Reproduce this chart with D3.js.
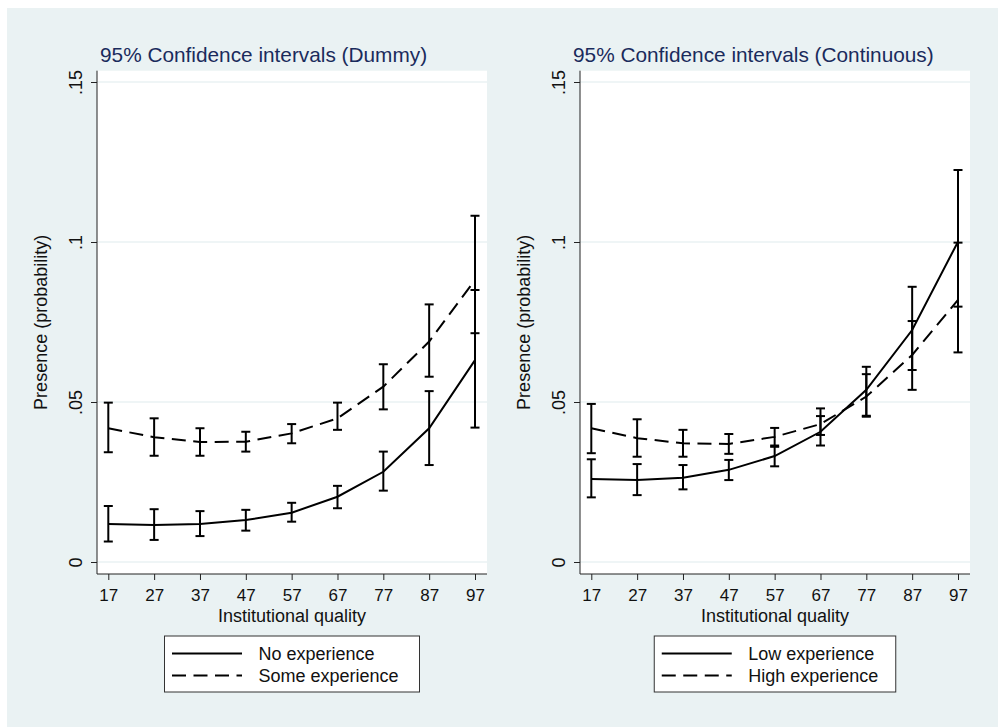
<!DOCTYPE html>
<html>
<head>
<meta charset="utf-8">
<script src="https://cdn.jsdelivr.net/npm/d3@7"></script>
<style>
  body { margin: 0; background: #fff; }
  svg { display: block; font-family: "Liberation Sans", Arial, sans-serif; }
</style>
</head>
<body>
<div id="chart"></div>
<script>
// Institutional quality values on the x axis
const quality = [17, 27, 37, 47, 57, 67, 77, 87, 97];
const yTicks = [0, 0.05, 0.1, 0.15];
const yTickLabels = ['0', '.05', '.1', '.15'];

// Dummy specification
const noExpMean = [0.0119, 0.0116, 0.0119, 0.0131, 0.0154, 0.0204, 0.0282, 0.0418, 0.0631];
const noExpLo   = [0.0064, 0.0069, 0.0081, 0.0098, 0.0126, 0.0168, 0.0223, 0.0303, 0.0420];
const noExpHi   = [0.0175, 0.0165, 0.0159, 0.0163, 0.0185, 0.0238, 0.0345, 0.0534, 0.0850];
const someExpMean = [0.0418, 0.0390, 0.0375, 0.0376, 0.0402, 0.0449, 0.0548, 0.0689, 0.0881];
const someExpLo   = [0.0343, 0.0332, 0.0332, 0.0345, 0.0371, 0.0413, 0.0477, 0.0579, 0.0715];
const someExpHi   = [0.0498, 0.0449, 0.0418, 0.0407, 0.0431, 0.0498, 0.0618, 0.0805, 0.1082];

// Continuous specification
const lowExpMean = [0.0259, 0.0256, 0.0263, 0.0288, 0.0331, 0.0407, 0.0538, 0.0725, 0.1001];
const lowExpLo   = [0.0202, 0.0209, 0.0227, 0.0256, 0.0299, 0.0364, 0.0454, 0.0600, 0.0798];
const lowExpHi   = [0.0321, 0.0306, 0.0303, 0.0319, 0.0364, 0.0456, 0.0610, 0.0860, 0.1225];
const highExpMean = [0.0418, 0.0387, 0.0371, 0.0369, 0.0391, 0.0431, 0.0517, 0.0647, 0.0819];
const highExpLo   = [0.0340, 0.0329, 0.0329, 0.0338, 0.0360, 0.0397, 0.0457, 0.0538, 0.0655];
const highExpHi   = [0.0494, 0.0446, 0.0413, 0.0400, 0.0419, 0.0480, 0.0587, 0.0753, 0.0998];

const panels = [
  {
    title: '95% Confidence intervals (Dummy)', left: 97, titleX: 100,
    series: [
      {name: 'No experience', mean: noExpMean, lo: noExpLo, hi: noExpHi, dash: null},
      {name: 'Some experience', mean: someExpMean, lo: someExpLo, hi: someExpHi, dash: '14,7.5'}
    ]
  },
  {
    title: '95% Confidence intervals (Continuous)', left: 580, titleX: 573,
    series: [
      {name: 'Low experience', mean: lowExpMean, lo: lowExpLo, hi: lowExpHi, dash: null},
      {name: 'High experience', mean: highExpMean, lo: highExpLo, hi: highExpHi, dash: '14,7.5'}
    ]
  }
];

const W = 998, H = 727;
const bg = '#eaf2f3';
const navy = '#1a2b5c';
const plotW = 390, plotTop = 70.7, plotBottom = 574;

const svg = d3.select('#chart').append('svg').attr('width', W).attr('height', H);
svg.append('rect').attr('width', W).attr('height', H).attr('fill', '#fff');
svg.append('rect').attr('x', 7).attr('y', 8).attr('width', W - 7).attr('height', H - 8).attr('fill', bg);

const y = d3.scaleLinear().domain([0, 0.15]).range([562, 82]);

panels.forEach(p => {
  const g = svg.append('g').attr('transform', `translate(${p.left},0)`);
  const x = d3.scaleLinear().domain([17, 97]).range([11.3, 378]);
  const midX = plotW / 2;

  // plot region and grid
  g.append('rect').attr('x', 0).attr('y', plotTop).attr('width', plotW)
    .attr('height', plotBottom - plotTop).attr('fill', '#fff');
  g.selectAll('line.grid').data(yTicks).join('line').attr('class', 'grid')
    .attr('x1', 0).attr('x2', plotW)
    .attr('y1', d => y(d)).attr('y2', d => y(d))
    .attr('stroke', bg).attr('stroke-width', 1.6);

  // y axis
  const yAxis = d3.axisLeft(y).tickValues(yTicks).tickSize(6).tickSizeOuter(0)
    .tickFormat((d, i) => yTickLabels[i]);
  const ya = g.append('g').call(yAxis);
  ya.select('.domain').remove();
  ya.selectAll('line').attr('stroke', '#222');
  ya.selectAll('text').attr('font-size', 18).attr('fill', '#111')
    .attr('text-anchor', 'middle').attr('x', null).attr('dy', null)
    .attr('transform', 'translate(-15,0) rotate(-90)');
  g.append('line').attr('x1', 0).attr('x2', 0).attr('y1', plotTop).attr('y2', plotBottom)
    .attr('stroke', '#222').attr('stroke-width', 1);

  // x axis
  const xAxis = d3.axisBottom(x).tickValues(quality).tickSize(6).tickSizeOuter(0);
  const xa = g.append('g').attr('transform', `translate(0,${plotBottom})`).call(xAxis);
  xa.select('.domain').remove();
  xa.selectAll('line').attr('stroke', '#222');
  xa.selectAll('text').attr('font-size', 17).attr('fill', '#111').attr('dy', null).attr('y', 27);
  g.append('line').attr('x1', 0).attr('x2', plotW).attr('y1', plotBottom).attr('y2', plotBottom)
    .attr('stroke', '#222').attr('stroke-width', 1);

  // axis titles
  g.append('text').attr('x', midX).attr('y', 622).attr('text-anchor', 'middle')
    .attr('font-size', 18).attr('fill', '#111').text('Institutional quality');
  g.append('text').attr('transform', `translate(-50,${(plotTop + plotBottom) / 2}) rotate(-90)`)
    .attr('text-anchor', 'middle').attr('font-size', 18).attr('fill', '#111')
    .text('Presence (probability)');

  // title
  svg.append('text').attr('x', p.titleX).attr('y', 62).attr('font-size', 20.8)
    .attr('fill', navy).text(p.title);

  // CI caps and lines
  const line = d3.line().x((d, i) => x(quality[i])).y(d => y(d));
  p.series.forEach(s => {
    const ci = g.append('g').attr('stroke', '#000').attr('stroke-width', 2);
    quality.forEach((q, i) => {
      ci.append('line').attr('x1', x(q)).attr('x2', x(q)).attr('y1', y(s.lo[i])).attr('y2', y(s.hi[i]));
      ci.append('line').attr('x1', x(q) - 4.5).attr('x2', x(q) + 4.5).attr('y1', y(s.lo[i])).attr('y2', y(s.lo[i]));
      ci.append('line').attr('x1', x(q) - 4.5).attr('x2', x(q) + 4.5).attr('y1', y(s.hi[i])).attr('y2', y(s.hi[i]));
    });
  });
  p.series.forEach(s => {
    g.append('path').datum(s.mean).attr('d', line).attr('fill', 'none')
      .attr('stroke', '#000').attr('stroke-width', 2)
      .attr('stroke-dasharray', s.dash);
  });

  // legend
  const lgW = p.left === 97 ? 255 : 241.5;
  const lg = g.append('g').attr('transform', `translate(${midX - lgW / 2},636)`);
  lg.append('rect').attr('width', lgW).attr('height', 56).attr('fill', '#fff')
    .attr('stroke', '#333').attr('stroke-width', 1);
  p.series.forEach((s, i) => {
    const ly = 17.5 + i * 22;
    lg.append('line').attr('x1', 7.5).attr('x2', 77.5).attr('y1', ly).attr('y2', ly)
      .attr('stroke', '#000').attr('stroke-width', 2).attr('stroke-dasharray', s.dash);
    lg.append('text').attr('x', 94).attr('y', ly + 6.5).attr('font-size', 18)
      .attr('fill', '#111').text(s.name);
  });
});
</script>
</body>
</html>
